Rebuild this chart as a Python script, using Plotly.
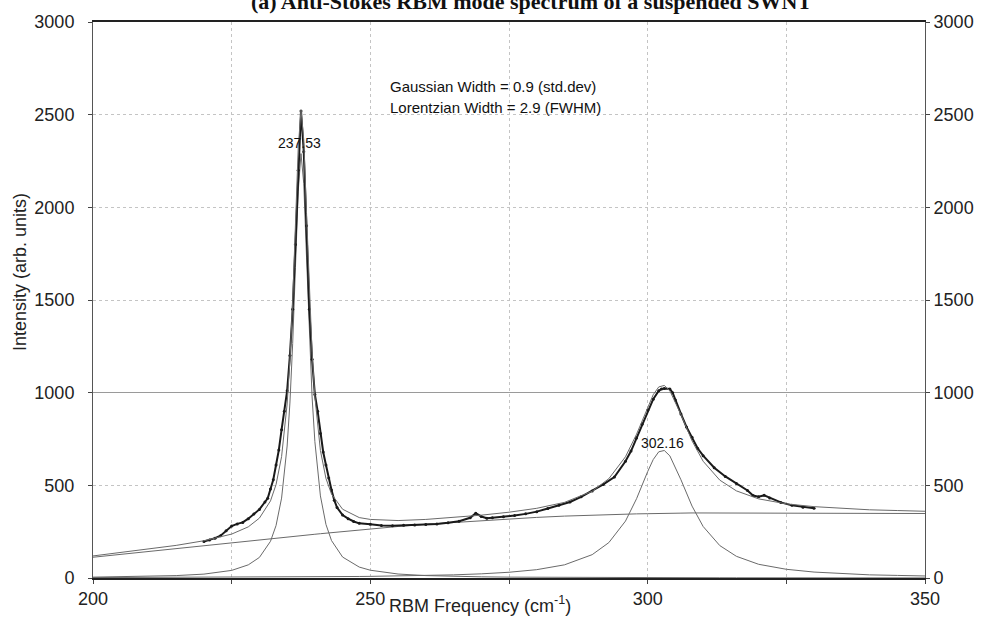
import plotly.graph_objects as go

# ---- fit curves ----
fit_x = [200, 205, 210, 215, 220, 225, 228, 230, 232, 233, 234, 235, 235.5, 236, 236.5,
         237, 237.5, 238, 238.5, 239, 239.5, 240, 241, 242, 243, 245, 248, 250, 255, 260,
         265, 270, 275, 280, 285, 290, 293, 296, 298, 300, 301, 302, 303, 304, 306,
         308, 310, 313, 316, 320, 325, 330, 335, 340, 345, 350]
background = [112, 128, 144, 160, 176, 192, 201, 207, 213, 216, 219, 222, 223, 225, 226,
              228, 229, 231, 232, 234, 235, 236, 239, 242, 245, 251, 259, 265, 278, 290,
              300, 310, 319, 327, 334, 340, 343, 345, 346, 347, 348, 348, 349, 349, 350,
              351, 351, 352, 352, 352, 352, 352, 351, 350, 349, 348]
peak1 = [4.7, 6.2, 8.7, 13, 21, 41, 71, 111, 198, 283, 431, 712, 944, 1265, 1675,
         2087, 2290, 2127, 1727, 1310, 977, 736, 443, 289, 202, 113, 59, 42, 21.5, 13,
         8.7, 6.3, 4.7, 3.7, 2.9, 2.4, 2.2, 1.9, 1.8, 1.7, 1.6, 1.6, 1.6, 1.5, 1.5,
         1.4, 1.3, 1.2, 1.1, 1.0, 0.9, 0.8, 0.7, 0.6, 0.6, 0.5]
peak2 = [2.4, 2.6, 2.9, 3.2, 3.6, 4.1, 4.4, 4.7, 4.9, 5.0, 5.1, 5.2, 5.3, 5.3, 5.4,
         5.5, 5.5, 5.6, 5.7, 5.7, 5.8, 5.9, 6.0, 6.2, 6.4, 7.4, 8.2, 8.8, 10.7, 13.4,
         17, 22.5, 31, 45, 71, 126, 191, 307, 428, 574, 639, 681, 688, 659, 530,
         388, 278, 175, 117, 74, 47, 32, 23, 17, 14, 11]
total_fit = [119, 137, 156, 176, 201, 237, 276, 323, 416, 504, 655, 939, 1172, 1495, 1906,
             2321, 2525, 2364, 1965, 1550, 1218, 978, 688, 537, 453, 371, 326, 316, 310, 316,
             326, 339, 355, 376, 408, 468, 536, 654, 776, 923, 989, 1031, 1039, 1010, 882,
             740, 630, 528, 470, 427, 400, 385, 375, 368, 364, 360]

# ---- measured spectrum ----
data_x = [220, 221, 222, 223, 224, 225, 226, 227, 228, 229, 230, 231, 231.5, 232, 232.5,
          233, 233.5, 234, 234.5, 235, 235.5, 236, 236.5, 237, 237.5, 238, 238.5, 239,
          239.5, 240, 240.5, 241, 241.5, 242, 242.5, 243, 243.5, 244, 245, 246, 247, 248,
          250, 252, 254, 256, 258, 260, 262, 264, 266, 268, 269, 270, 271, 272, 274, 276,
          278, 280, 282, 284, 286, 288, 290, 292, 294, 296, 297, 298, 299, 300, 301, 302,
          302.5, 303, 304, 304.5, 305, 306, 307, 308, 309, 310, 312, 314, 316, 318, 319,
          320, 321, 322, 324, 326, 328, 330]
data_y = [197, 205, 215, 228, 255, 280, 292, 300, 320, 345, 370, 410, 430, 480, 530,
          610, 690, 800, 900, 1010, 1200, 1450, 1800, 2200, 2520, 2300, 1900, 1450,
          1180, 990, 900, 780, 680, 610, 540, 475, 420, 380, 340, 320, 305, 295,
          290, 283, 282, 284, 286, 289, 292, 298, 306, 325, 350, 332, 322, 325, 330, 337,
          346, 358, 375, 392, 410, 438, 470, 505, 545, 630, 685, 755, 830, 905, 965, 1010,
          1020, 1022, 1020, 1000, 960, 885, 815, 760, 700, 660, 595, 548, 510, 472, 445,
          438, 446, 432, 408, 392, 382, 376]

y_ticks = [0, 500, 1000, 1500, 2000, 2500, 3000]
x_label_step = 50
x_grid_step = 25

FONT = "Liberation Sans, Arial, sans-serif"
fit_color = "#6a6a6a"

fig = go.Figure()
fig.add_trace(go.Scatter(x=fit_x, y=background, mode="lines",
                         line=dict(color=fit_color, width=1), hoverinfo="skip"))
fig.add_trace(go.Scatter(x=fit_x, y=peak1, mode="lines",
                         line=dict(color=fit_color, width=1), hoverinfo="skip"))
fig.add_trace(go.Scatter(x=fit_x, y=peak2, mode="lines",
                         line=dict(color=fit_color, width=1), hoverinfo="skip"))
fig.add_trace(go.Scatter(x=data_x, y=data_y, mode="lines+markers",
                         line=dict(color="#1a1a1a", width=2),
                         marker=dict(color="#1a1a1a", size=3)))
fig.add_trace(go.Scatter(x=fit_x, y=total_fit, mode="lines",
                         line=dict(color=fit_color, width=1), hoverinfo="skip"))
# invisible traces so that the overlay axes are drawn
fig.add_trace(go.Scatter(x=[200], y=[0], yaxis="y2", mode="markers",
                         marker=dict(opacity=0), hoverinfo="skip"))
fig.add_trace(go.Scatter(x=[200], y=[0], yaxis="y3", mode="markers",
                         marker=dict(opacity=0), hoverinfo="skip"))

axis_font = dict(family=FONT, size=18, color="#222")

fig.update_layout(
    width=986, height=621,
    margin=dict(l=93, r=61, t=18, b=43),
    paper_bgcolor="white", plot_bgcolor="white",
    showlegend=False,
    font=dict(family=FONT, color="#222"),
    title=dict(text="<b>(a) Anti-Stokes RBM mode spectrum of a suspended SWNT</b>",
               font=dict(family="Liberation Serif, Times New Roman, serif", size=22, color="#111"),
               x=0.539, xref="container", xanchor="center",
               y=0.9985, yref="container", yanchor="middle"),
    xaxis=dict(range=[200, 350], tick0=200, dtick=x_label_step,
               ticks="outside", ticklen=4, tickcolor="#444", tickfont=axis_font,
               showgrid=True, gridcolor="#c4c4c4", griddash="dot", gridwidth=1,
               minor=dict(tick0=200, dtick=x_grid_step, ticks="outside", ticklen=4,
                          tickcolor="#444", showgrid=True, gridcolor="#c4c4c4",
                          griddash="dot", gridwidth=1),
               showline=True, linecolor="#222", linewidth=1.5, mirror=True,
               zeroline=False),
    yaxis=dict(range=[0, 3000], tickvals=y_ticks, ticks="outside", ticklen=4,
               tickcolor="#444", tickfont=axis_font, ticklabelstandoff=10,
               showgrid=True, gridcolor="#c4c4c4", griddash="dot", gridwidth=1,
               showline=True, linecolor="#555", linewidth=1, mirror=True,
               zeroline=False),
    yaxis2=dict(range=[0, 3000], tickvals=y_ticks, overlaying="y", side="right",
                ticks="outside", ticklen=4, tickcolor="#444", tickfont=axis_font,
                showgrid=False, showline=False, zeroline=False),
    yaxis3=dict(range=[0, 3000], tickvals=[1000], overlaying="y", side="left",
                showticklabels=False, ticks="", showgrid=True, gridcolor="#9a9a9a",
                gridwidth=1, showline=False, zeroline=False),
)

fig.add_annotation(x=253.2, y=2651, xref="x", yref="y", xanchor="left", yanchor="middle",
                   text="Gaussian Width = 0.9 (std.dev)", showarrow=False,
                   font=dict(family=FONT, size=15, color="#111"))
fig.add_annotation(x=253.2, y=2539, xref="x", yref="y", xanchor="left", yanchor="middle",
                   text="Lorentzian Width = 2.9 (FWHM)", showarrow=False,
                   font=dict(family=FONT, size=15, color="#111"))
fig.add_annotation(x=237.3, y=2346, xref="x", yref="y", xanchor="center", yanchor="middle",
                   text="237.53", showarrow=False,
                   font=dict(family=FONT, size=14, color="#111"))
fig.add_annotation(x=302.6, y=728, xref="x", yref="y", xanchor="center", yanchor="middle",
                   text="302.16", showarrow=False,
                   font=dict(family=FONT, size=14, color="#111"))
fig.add_annotation(x=0.465, y=-0.048, xref="paper", yref="paper", xanchor="center",
                   yanchor="middle", text="RBM Frequency (cm<sup>-1</sup>)", showarrow=False,
                   font=dict(family=FONT, size=18, color="#222"))
fig.add_annotation(x=-0.088, y=0.55, xref="paper", yref="paper", xanchor="center",
                   yanchor="middle", text="Intensity (arb. units)", textangle=-90,
                   showarrow=False, font=dict(family=FONT, size=18, color="#222"))

fig.write_html("out.html")
